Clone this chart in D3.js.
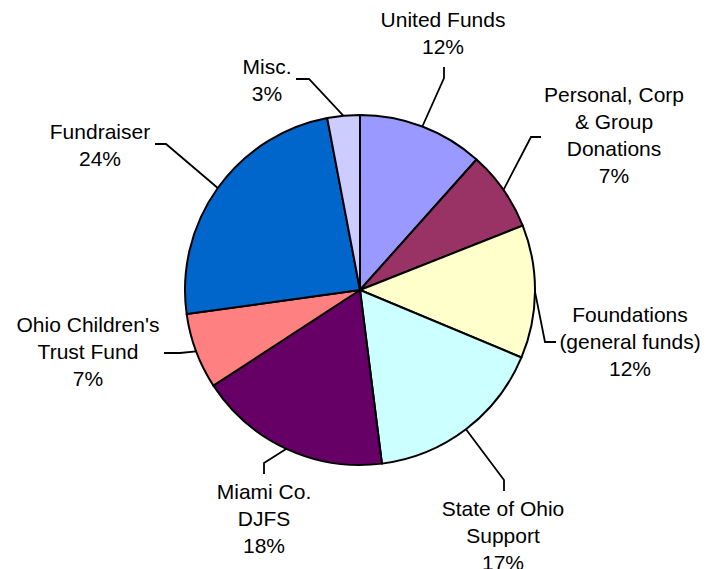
<!DOCTYPE html>
<html>
<head>
<meta charset="utf-8">
<script src="https://cdn.jsdelivr.net/npm/d3@7"></script>
<style>
  body { margin: 0; background: #fff; }
  text { font-family: "Liberation Sans", Arial, sans-serif; font-size: 21px; fill: #000; }
</style>
</head>
<body>
<div id="chart"></div>
<script>
// Data
var categories  = [ 'United Funds', 'Personal, Corp & Group Donations', 'Foundations (general funds)',
                    'State of Ohio Support', 'Miami Co. DJFS', "Ohio Children's Trust Fund", 'Fundraiser', 'Misc.' ];
var values      = [ 11.6, 7.4, 12.3, 16.7, 17.8, 7.0, 24.2, 3.0 ];
var label_lines = [ [ 'United Funds' ], [ 'Personal, Corp', '& Group', 'Donations' ], [ 'Foundations', '(general funds)' ],
                    [ 'State of Ohio', 'Support' ], [ 'Miami Co.', 'DJFS' ], [ "Ohio Children's", 'Trust Fund' ],
                    [ 'Fundraiser' ], [ 'Misc.' ] ];
var colors      = [ '#9999ff', '#993366', '#ffffcc', '#ccffff', '#660066', '#ff8080', '#0066cc', '#ccccff' ];

// label layout: text centre x, first line y, elbow and end of leader line
var label_pos = [
    { x: 443, y: 19,  elbow: [ 444, 78 ],  end: [ 444, 67 ] },
    { x: 614, y: 94,  elbow: [ 531, 137 ], end: [ 541, 137 ] },
    { x: 630, y: 314, elbow: [ 545, 342 ], end: [ 556, 342 ] },
    { x: 503, y: 508, elbow: [ 504, 480 ], end: [ 504, 491 ] },
    { x: 264, y: 491, elbow: [ 264, 463 ], end: [ 264, 474 ] },
    { x: 88,  y: 324, elbow: [ 180, 353 ], end: [ 164, 353 ] },
    { x: 100, y: 131, elbow: [ 166, 144 ], end: [ 155, 144 ] },
    { x: 267, y: 66,  elbow: [ 309, 79 ],  end: [ 296, 79 ] }
];

var chart_width  = 706;
var chart_height = 569;
var cx = 360, cy = 290;
var radius = 175;
var line_height = 27.3;

var total = d3.sum(values);
var pct = d3.format('.0%');

var pie = d3.pie().sort(null).value(function(d){ return d; });
var arc = d3.arc().innerRadius(0).outerRadius(radius);
var edge = d3.arc().innerRadius(radius).outerRadius(radius);

var svg = d3.select('#chart')
    .append('svg')
    .attr('width', chart_width)
    .attr('height', chart_height);

var g = svg.append('g')
    .attr('transform', 'translate(' + cx + ',' + cy + ')');

var arcs = g.selectAll('g.arc')
    .data(pie(values))
    .enter()
    .append('g')
    .attr('class', 'arc');

arcs.append('path')
    .attr('d', arc)
    .attr('fill', function(d, i){ return colors[i]; })
    .attr('stroke', '#000')
    .attr('stroke-width', 2)
    .attr('stroke-linejoin', 'round');

// leader lines
arcs.append('polyline')
    .attr('fill', 'none')
    .attr('stroke', '#000')
    .attr('stroke-width', 1.8)
    .attr('points', function(d, i){
        var p = edge.centroid(d);
        var lp = label_pos[i];
        return [ p, [ lp.elbow[0] - cx, lp.elbow[1] - cy ], [ lp.end[0] - cx, lp.end[1] - cy ] ].join(' ');
    });

// labels
var labels = svg.selectAll('text.label')
    .data(pie(values))
    .enter()
    .append('text')
    .attr('class', 'label')
    .attr('text-anchor', 'middle');

labels.each(function(d, i){
    var lines = label_lines[i].concat([ pct(d.value / total) ]);
    var lp = label_pos[i];
    d3.select(this).selectAll('tspan')
        .data(lines)
        .enter()
        .append('tspan')
        .attr('x', lp.x)
        .attr('y', function(t, j){ return lp.y + j * line_height + 7.5; })
        .text(function(t){ return t; });
});
</script>
</body>
</html>
